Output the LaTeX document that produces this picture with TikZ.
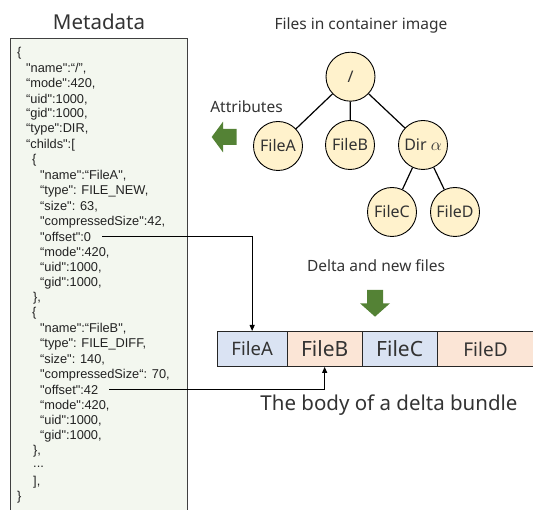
\documentclass[tikz,border=0pt]{standalone}
\usepackage{fontspec}
\setmainfont{Noto Sans}
\newfontfamily\jsonfont{Liberation Sans}
\usetikzlibrary{arrows.meta}

\definecolor{txt}{HTML}{333333}
\definecolor{jsontxt}{HTML}{222222}
\definecolor{metafill}{HTML}{F3F7EF}
\definecolor{metaline}{HTML}{404040}
\definecolor{treefill}{HTML}{FFF2CC}
\definecolor{cellblue}{HTML}{DAE3F3}
\definecolor{cellorange}{HTML}{FBE5D6}
\definecolor{arrowgreen}{HTML}{548235}

\newcommand{\fs}[1]{\fontsize{#1}{#1}\selectfont}
% one line of the JSON listing: index, indent, text
\newcommand{\jl}[3]{\node[json] (j#1) at (#2,{53.4+15.3*#1}) {#3};}

\tikzset{
  json/.style={anchor=west, inner sep=0pt, text=jsontxt, font=\jsonfont\fs{12.8}},
  label/.style={inner sep=0pt, text=txt},
  tnode/.style={circle, draw=black, line width=0.9pt, fill=treefill,
    minimum size=49pt, inner sep=0pt, text=txt, font=\fs{16}},
  tedge/.style={line width=1.2pt},
  cell/.style={draw=black!85, line width=0.9pt, anchor=north west,
    minimum height=35pt, inner sep=0pt, text=txt},
  conn/.style={line width=1pt, -{Triangle[length=6pt,width=5pt]}},
  bigarrow/.style={fill=arrowgreen}
}

\begin{document}
\begin{tikzpicture}[x=1pt,y=-1pt]
\useasboundingbox (0,0) rectangle (533,510);
\clip (0,0) rectangle (533,510);

% ---- metadata listing ----
\node[label, font=\fs{20.5}] (meta) at (99,22) {Metadata};
\draw[draw=metaline, line width=1pt, fill=metafill] (10,38.3) rectangle (187.3,520);

\jl{0}{17}{\{}
\jl{1}{26}{"name":“/”,}
\jl{2}{26}{“mode":420,}
\jl{3}{26}{“uid":1000,}
\jl{4}{26}{“gid":1000,}
\jl{5}{26}{“type":DIR,}
\jl{6}{26}{“childs":[}
\jl{7}{32}{\{}
\jl{8}{40}{"name":“FileA",}
\jl{9}{40}{“type": FILE\_NEW,}
\jl{10}{40}{“size": 63,}
\jl{11}{40}{"compressedSize":42,}
\jl{12}{40}{"offset":0}
\jl{13}{40}{“mode":420,}
\jl{14}{40}{“uid":1000,}
\jl{15}{40}{“gid":1000,}
\jl{16}{33}{\},}
\jl{17}{32}{\{}
\jl{18}{40}{"name":“FileB",}
\jl{19}{40}{“type": FILE\_DIFF,}
\jl{20}{40}{“size": 140,}
\jl{21}{40}{"compressedSize“: 70,}
\jl{22}{40}{"offset":42}
\jl{23}{40}{“mode":420,}
\jl{24}{40}{“uid":1000,}
\jl{25}{40}{“gid":1000,}
\jl{26}{33}{\},}
\jl{27}{33}{...}
\jl{28}{33}{],}
\jl{29}{17}{\}}

% ---- file tree ----
\node[label, font=\fs{15.5}] (files) at (361,25) {Files in container image};
\node[tnode] (root) at (350.5,76.7) {/};
\node[tnode] (fa) at (278,146) {FileA};
\node[tnode] (fb) at (350,145) {FileB};
\node[tnode] (dir) at (423,145) {Dir $\alpha$};
\node[tnode] (fc) at (392,212) {FileC};
\node[tnode] (fd) at (455,212) {FileD};
\draw[tedge] (root) -- (fa);
\draw[tedge] (root) -- (fb);
\draw[tedge] (root) -- (dir);
\draw[tedge] (dir) -- (fc);
\draw[tedge] (dir) -- (fd);

\node[label, font=\fs{15.5}] (attr) at (246.5,106.5) {Attributes};
\fill[bigarrow] (211.7,137) -- (223,121.7) -- (223,129) -- (236.7,129)
  -- (236.7,145) -- (223,145) -- (223,152.3) -- cycle;

% ---- delta bundle body ----
\node[label, font=\fs{15.5}] (delta) at (376,266) {Delta and new files};
\fill[bigarrow] (375,316.7) -- (360,303.3) -- (367,303.3) -- (367,290)
  -- (383,290) -- (383,303.3) -- (390,303.3) -- cycle;

\node[cell, fill=cellblue, minimum width=70pt, font=\fs{18.5}] (cA) at (216.7,331) {FileA};
\node[cell, fill=cellorange, minimum width=75pt, font=\fs{21}] (cB) at (286.7,331) {FileB};
\node[cell, fill=cellblue, minimum width=75pt, font=\fs{21}] (cC) at (361.7,331) {FileC};
% the last cell runs on past the right edge
\node[cell, fill=cellorange, minimum width=103.3pt, font=\fs{19}] (cD) at (436.7,331)
  {FileD\hspace*{6.6pt}};

\node[label, font=\fs{20.5}] (body) at (389,405) {The body of a delta bundle};

% ---- offsets pointing into the body ----
\draw[conn] ([xshift=11pt]j12.east) -| (cA.north);
\draw[conn] ([xshift=11pt]j22.east) -| (cB.south);
\end{tikzpicture}
\end{document}
